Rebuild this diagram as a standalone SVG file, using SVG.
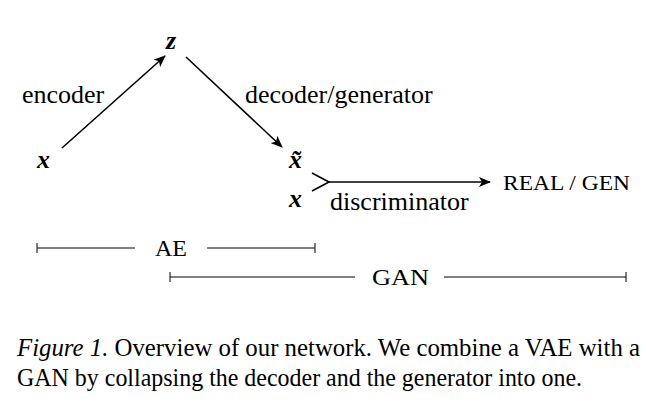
<svg xmlns="http://www.w3.org/2000/svg" width="646" height="402" viewBox="0 0 646 402">
<style>
.t{font-family:"Liberation Serif","Times New Roman",serif;fill:#000}
.m{font-family:"Liberation Serif","Times New Roman",serif;font-style:italic;font-weight:bold;font-size:26px;fill:#000}
.l{stroke:#000;stroke-width:1.6;fill:none}
.b{stroke:#000;stroke-width:1;fill:none}
</style>
<defs>
<marker id="ah" viewBox="0 0 12 10" refX="11" refY="5" markerWidth="12" markerHeight="10" markerUnits="userSpaceOnUse" orient="auto">
<path d="M0,0 L12,5 L0,10 L3,5 Z" fill="#000"/>
</marker>
</defs>
<g id="node-z"><text class="m" x="166" y="49">z</text></g>
<g id="node-x"><text class="m" x="37" y="168">x</text></g>
<g id="node-xt"><text class="m" x="289" y="168">x̃</text></g>
<g id="node-x2"><text class="m" x="289" y="207">x</text></g>
<g id="node-out"><text class="t" x="503" y="190" font-size="20.5" textLength="127" lengthAdjust="spacingAndGlyphs">REAL / GEN</text></g>
<g id="connectors">
<line class="l" x1="62" y1="148" x2="165" y2="56" marker-end="url(#ah)"/>
<line class="l" x1="186" y1="57" x2="282" y2="147" marker-end="url(#ah)"/>
<polyline class="l" points="312,173 329,182 312,191"/>
<line class="l" x1="329" y1="182" x2="490" y2="182" marker-end="url(#ah)"/>
<text class="t" x="22" y="103" font-size="26">encoder</text>
<text class="t" x="245" y="103" font-size="26">decoder/generator</text>
<text class="t" x="330" y="210" font-size="26">discriminator</text>
</g>
<g id="ranges">
<line class="b" x1="37" y1="248" x2="135" y2="248"/>
<line class="b" x1="37" y1="243" x2="37" y2="253"/>
<line class="b" x1="207" y1="248" x2="315" y2="248"/>
<line class="b" x1="315" y1="243" x2="315" y2="253"/>
<text class="t" x="155" y="256" font-size="24" textLength="32" lengthAdjust="spacingAndGlyphs">AE</text>
<line class="b" x1="170" y1="277" x2="355" y2="277"/>
<line class="b" x1="170" y1="272" x2="170" y2="282"/>
<line class="b" x1="444" y1="277" x2="626" y2="277"/>
<line class="b" x1="626" y1="272" x2="626" y2="282"/>
<text class="t" x="372" y="285" font-size="24" textLength="57" lengthAdjust="spacingAndGlyphs">GAN</text>
</g>
<g id="caption">
<text class="t" x="17" y="356" font-size="25" textLength="623" lengthAdjust="spacingAndGlyphs"><tspan font-style="italic">Figure 1.</tspan> Overview of our network.  We combine a VAE with a</text>
<text class="t" x="17" y="386" font-size="25" textLength="565" lengthAdjust="spacingAndGlyphs">GAN by collapsing the decoder and the generator into one.</text>
</g>
</svg>
